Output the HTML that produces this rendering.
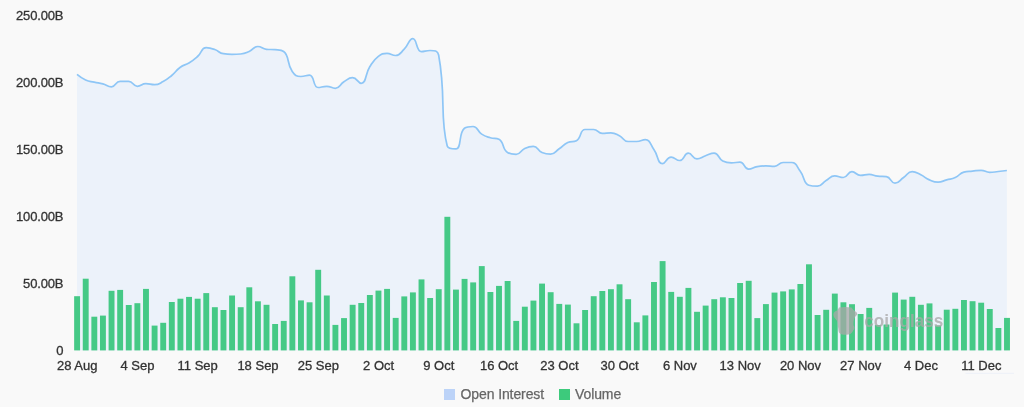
<!DOCTYPE html>
<html><head><meta charset="utf-8"><style>
html,body{margin:0;padding:0;background:#f9f9f9;}
body{width:1024px;height:407px;overflow:hidden;}
svg{display:block;font-family:"Liberation Sans", sans-serif;will-change:transform;}
</style></head><body>
<svg width="1024" height="407" viewBox="0 0 1024 407">
<rect width="1024" height="407" fill="#f9f9f9"/>
<path d="M77.00,74.40C77.00,74.40 81.01,77.82 85.61,79.90C89.62,81.72 89.88,81.19 94.22,82.20C98.49,83.19 98.60,82.77 102.83,83.90C107.21,85.07 107.39,86.80 111.44,86.80C116.00,86.80 115.38,81.30 120.05,81.30C123.99,81.30 124.67,81.30 128.66,81.30C133.28,81.30 132.75,86.30 137.27,86.30C141.36,86.30 141.50,83.70 145.88,83.70C150.11,83.70 150.30,84.70 154.49,84.70C158.91,84.70 159.10,83.74 163.10,81.60C167.71,79.14 167.68,78.87 171.71,75.50C176.29,71.67 175.54,70.67 180.32,67.20C184.15,64.42 184.88,65.52 188.93,63.00C193.49,60.17 193.52,60.07 197.54,56.50C202.13,52.42 201.13,47.70 206.15,47.70C209.74,47.70 210.64,48.06 214.76,49.50C219.25,51.06 218.84,53.03 223.37,53.70C227.45,54.30 227.67,54.30 231.98,54.30C236.28,54.30 236.37,54.30 240.59,54.00C244.98,53.69 245.12,53.28 249.20,51.50C253.73,49.53 253.30,46.50 257.81,46.50C261.91,46.50 262.01,48.88 266.42,49.30C270.62,49.70 270.77,49.30 275.03,49.70C279.38,50.11 281.17,49.70 283.64,51.50C289.78,55.96 286.35,62.92 292.25,71.50C294.96,75.42 296.27,76.50 300.86,76.50C304.88,76.50 306.31,75.20 309.48,75.20C314.92,75.20 312.63,87.50 318.09,87.50C321.24,87.50 322.43,86.30 326.70,86.30C331.04,86.30 331.43,88.30 335.31,88.30C340.04,88.30 339.35,84.61 343.92,81.80C347.96,79.31 348.38,77.70 352.53,77.70C356.99,77.70 358.08,83.30 361.14,83.30C366.69,83.30 364.73,74.53 369.75,66.70C373.34,61.08 373.23,60.36 378.36,56.40C381.84,53.71 382.60,53.40 386.97,53.40C391.21,53.40 391.67,55.50 395.58,55.50C400.28,55.50 400.40,52.90 404.19,49.20C409.01,44.50 408.78,38.70 412.80,38.70C417.39,38.70 415.89,51.60 421.41,51.60C424.50,51.60 425.95,50.50 430.02,50.50C434.56,50.50 437.80,50.50 438.63,55.00C446.41,97.34 439.41,116.82 447.24,146.00C448.02,148.90 453.36,148.90 455.85,148.90C461.97,148.90 458.28,132.87 464.46,128.30C466.89,126.50 469.33,126.50 473.07,126.50C477.94,126.50 476.93,131.01 481.68,134.10C485.54,136.61 485.85,136.36 490.29,137.70C494.46,138.96 495.82,137.70 498.90,139.30C504.43,142.18 501.98,149.28 507.51,152.50C510.59,154.30 512.18,154.30 516.12,154.30C520.79,154.30 520.07,150.56 524.73,148.40C528.68,146.56 529.42,146.30 533.34,146.30C538.03,146.30 537.23,150.56 541.95,152.50C545.84,154.10 546.56,154.10 550.56,154.10C555.17,154.10 554.97,151.61 559.17,148.80C563.58,145.86 563.07,144.77 567.78,142.60C571.68,140.80 573.10,142.60 576.39,140.80C581.71,137.89 579.64,129.50 585.00,129.50C588.25,129.50 589.51,129.50 593.61,129.50C598.12,129.50 597.72,133.40 602.22,133.40C606.33,133.40 606.64,132.80 610.83,132.80C615.25,132.80 615.42,133.67 619.44,135.70C624.03,138.02 623.35,141.50 628.05,141.50C631.96,141.50 632.40,141.50 636.66,141.50C641.01,141.50 641.80,139.70 645.27,139.70C650.41,139.70 650.08,144.23 653.88,149.50C658.69,156.18 657.28,163.60 662.49,163.60C665.89,163.60 666.47,157.10 671.10,157.10C675.08,157.10 675.83,160.50 679.71,160.50C684.44,160.50 683.81,153.20 688.32,153.20C692.43,153.20 692.37,158.80 696.93,158.80C700.98,158.80 701.22,157.23 705.54,155.80C709.83,154.38 710.40,153.10 714.15,153.10C719.01,153.10 717.86,158.48 722.76,161.00C726.47,162.90 727.02,162.90 731.37,162.90C735.64,162.90 736.20,162.20 739.98,162.20C744.81,162.20 743.84,169.10 748.59,169.10C752.45,169.10 752.82,167.33 757.20,166.60C761.43,165.90 761.50,165.90 765.81,165.90C770.12,165.90 770.31,166.30 774.43,166.30C778.92,166.30 778.54,162.50 783.04,162.50C787.15,162.50 788.10,162.50 791.65,162.50C796.71,162.50 796.56,166.42 800.26,171.30C805.17,177.77 803.24,183.50 808.87,185.20C811.85,186.10 813.54,186.10 817.48,186.10C822.15,186.10 821.67,183.11 826.09,180.50C830.28,178.01 830.16,175.90 834.70,175.90C838.77,175.90 839.37,177.50 843.31,177.50C847.98,177.50 847.39,171.70 851.92,171.70C856.00,171.70 856.05,175.40 860.53,175.40C864.66,175.40 864.86,174.40 869.14,174.40C873.47,174.40 873.40,175.79 877.75,176.20C882.01,176.60 882.55,176.20 886.36,176.60C891.16,177.10 890.56,183.20 894.97,183.20C899.17,183.20 899.30,180.38 903.58,177.50C907.91,174.58 907.61,171.60 912.19,171.60C916.22,171.60 916.68,172.81 920.80,174.80C925.29,176.96 924.85,177.94 929.41,179.90C933.46,181.64 933.71,182.20 938.02,182.20C942.32,182.20 942.32,181.05 946.63,179.90C950.93,178.75 951.23,179.42 955.24,177.60C959.84,175.52 959.19,173.28 963.85,172.10C967.80,171.10 968.15,171.55 972.46,171.10C976.76,170.65 976.82,170.30 981.07,170.30C985.43,170.30 985.32,172.40 989.68,172.40C993.93,172.40 993.99,171.97 998.29,171.50C1002.60,171.02 1006.90,170.50 1006.90,170.50L1006.90,350.4L77.0,350.4Z" fill="#ecf2fa"/>
<g fill="#45c986">
<rect x="74.15" y="296.20" width="5.9" height="54.20"/>
<rect x="82.76" y="278.70" width="5.9" height="71.70"/>
<rect x="91.37" y="316.70" width="5.9" height="33.70"/>
<rect x="99.98" y="315.60" width="5.9" height="34.80"/>
<rect x="108.59" y="290.80" width="5.9" height="59.60"/>
<rect x="117.20" y="289.90" width="5.9" height="60.50"/>
<rect x="125.81" y="305.00" width="5.9" height="45.40"/>
<rect x="134.42" y="303.20" width="5.9" height="47.20"/>
<rect x="143.03" y="288.90" width="5.9" height="61.50"/>
<rect x="151.64" y="325.60" width="5.9" height="24.80"/>
<rect x="160.25" y="322.80" width="5.9" height="27.60"/>
<rect x="168.86" y="302.00" width="5.9" height="48.40"/>
<rect x="177.47" y="298.70" width="5.9" height="51.70"/>
<rect x="186.08" y="296.90" width="5.9" height="53.50"/>
<rect x="194.69" y="298.70" width="5.9" height="51.70"/>
<rect x="203.30" y="293.10" width="5.9" height="57.30"/>
<rect x="211.91" y="307.20" width="5.9" height="43.20"/>
<rect x="220.52" y="310.00" width="5.9" height="40.40"/>
<rect x="229.13" y="295.50" width="5.9" height="54.90"/>
<rect x="237.74" y="307.20" width="5.9" height="43.20"/>
<rect x="246.35" y="287.30" width="5.9" height="63.10"/>
<rect x="254.96" y="301.30" width="5.9" height="49.10"/>
<rect x="263.57" y="304.80" width="5.9" height="45.60"/>
<rect x="272.18" y="324.00" width="5.9" height="26.40"/>
<rect x="280.79" y="320.90" width="5.9" height="29.50"/>
<rect x="289.40" y="276.30" width="5.9" height="74.10"/>
<rect x="298.01" y="300.40" width="5.9" height="50.00"/>
<rect x="306.63" y="302.30" width="5.9" height="48.10"/>
<rect x="315.24" y="269.80" width="5.9" height="80.60"/>
<rect x="323.85" y="295.50" width="5.9" height="54.90"/>
<rect x="332.46" y="324.90" width="5.9" height="25.50"/>
<rect x="341.07" y="318.10" width="5.9" height="32.30"/>
<rect x="349.68" y="304.80" width="5.9" height="45.60"/>
<rect x="358.29" y="303.00" width="5.9" height="47.40"/>
<rect x="366.90" y="295.00" width="5.9" height="55.40"/>
<rect x="375.51" y="290.60" width="5.9" height="59.80"/>
<rect x="384.12" y="288.90" width="5.9" height="61.50"/>
<rect x="392.73" y="317.90" width="5.9" height="32.50"/>
<rect x="401.34" y="296.40" width="5.9" height="54.00"/>
<rect x="409.95" y="292.40" width="5.9" height="58.00"/>
<rect x="418.56" y="279.40" width="5.9" height="71.00"/>
<rect x="427.17" y="298.00" width="5.9" height="52.40"/>
<rect x="435.78" y="289.20" width="5.9" height="61.20"/>
<rect x="444.39" y="216.80" width="5.9" height="133.60"/>
<rect x="453.00" y="289.60" width="5.9" height="60.80"/>
<rect x="461.61" y="278.90" width="5.9" height="71.50"/>
<rect x="470.22" y="282.40" width="5.9" height="68.00"/>
<rect x="478.83" y="266.10" width="5.9" height="84.30"/>
<rect x="487.44" y="292.00" width="5.9" height="58.40"/>
<rect x="496.05" y="285.90" width="5.9" height="64.50"/>
<rect x="504.66" y="281.00" width="5.9" height="69.40"/>
<rect x="513.27" y="320.90" width="5.9" height="29.50"/>
<rect x="521.88" y="306.70" width="5.9" height="43.70"/>
<rect x="530.49" y="300.60" width="5.9" height="49.80"/>
<rect x="539.10" y="283.60" width="5.9" height="66.80"/>
<rect x="547.71" y="292.20" width="5.9" height="58.20"/>
<rect x="556.32" y="303.90" width="5.9" height="46.50"/>
<rect x="564.93" y="304.60" width="5.9" height="45.80"/>
<rect x="573.54" y="323.30" width="5.9" height="27.10"/>
<rect x="582.15" y="310.00" width="5.9" height="40.40"/>
<rect x="590.76" y="296.20" width="5.9" height="54.20"/>
<rect x="599.37" y="291.00" width="5.9" height="59.40"/>
<rect x="607.98" y="289.20" width="5.9" height="61.20"/>
<rect x="616.59" y="284.30" width="5.9" height="66.10"/>
<rect x="625.20" y="299.20" width="5.9" height="51.20"/>
<rect x="633.81" y="322.30" width="5.9" height="28.10"/>
<rect x="642.42" y="315.40" width="5.9" height="35.00"/>
<rect x="651.03" y="282.00" width="5.9" height="68.40"/>
<rect x="659.64" y="261.10" width="5.9" height="89.30"/>
<rect x="668.25" y="291.90" width="5.9" height="58.50"/>
<rect x="676.86" y="296.80" width="5.9" height="53.60"/>
<rect x="685.47" y="287.90" width="5.9" height="62.50"/>
<rect x="694.08" y="311.80" width="5.9" height="38.60"/>
<rect x="702.69" y="305.60" width="5.9" height="44.80"/>
<rect x="711.30" y="299.20" width="5.9" height="51.20"/>
<rect x="719.91" y="297.30" width="5.9" height="53.10"/>
<rect x="728.52" y="298.00" width="5.9" height="52.40"/>
<rect x="737.13" y="283.00" width="5.9" height="67.40"/>
<rect x="745.74" y="280.80" width="5.9" height="69.60"/>
<rect x="754.35" y="318.10" width="5.9" height="32.30"/>
<rect x="762.96" y="304.10" width="5.9" height="46.30"/>
<rect x="771.58" y="292.60" width="5.9" height="57.80"/>
<rect x="780.19" y="291.40" width="5.9" height="59.00"/>
<rect x="788.80" y="289.40" width="5.9" height="61.00"/>
<rect x="797.41" y="284.00" width="5.9" height="66.40"/>
<rect x="806.02" y="264.30" width="5.9" height="86.10"/>
<rect x="814.63" y="315.00" width="5.9" height="35.40"/>
<rect x="823.24" y="309.80" width="5.9" height="40.60"/>
<rect x="831.85" y="293.60" width="5.9" height="56.80"/>
<rect x="840.46" y="302.30" width="5.9" height="48.10"/>
<rect x="849.07" y="304.20" width="5.9" height="46.20"/>
<rect x="857.68" y="314.00" width="5.9" height="36.40"/>
<rect x="866.29" y="307.90" width="5.9" height="42.50"/>
<rect x="874.90" y="325.00" width="5.9" height="25.40"/>
<rect x="883.51" y="324.50" width="5.9" height="25.90"/>
<rect x="892.12" y="292.60" width="5.9" height="57.80"/>
<rect x="900.73" y="299.60" width="5.9" height="50.80"/>
<rect x="909.34" y="296.80" width="5.9" height="53.60"/>
<rect x="917.95" y="304.80" width="5.9" height="45.60"/>
<rect x="926.56" y="303.40" width="5.9" height="47.00"/>
<rect x="935.17" y="325.50" width="5.9" height="24.90"/>
<rect x="943.78" y="309.70" width="5.9" height="40.70"/>
<rect x="952.39" y="308.80" width="5.9" height="41.60"/>
<rect x="961.00" y="300.00" width="5.9" height="50.40"/>
<rect x="969.61" y="301.20" width="5.9" height="49.20"/>
<rect x="978.22" y="302.70" width="5.9" height="47.70"/>
<rect x="986.83" y="309.00" width="5.9" height="41.40"/>
<rect x="995.44" y="328.00" width="5.9" height="22.40"/>
<rect x="1004.05" y="317.90" width="5.9" height="32.50"/>
</g>
<path d="M77.00,74.40C77.00,74.40 81.01,77.82 85.61,79.90C89.62,81.72 89.88,81.19 94.22,82.20C98.49,83.19 98.60,82.77 102.83,83.90C107.21,85.07 107.39,86.80 111.44,86.80C116.00,86.80 115.38,81.30 120.05,81.30C123.99,81.30 124.67,81.30 128.66,81.30C133.28,81.30 132.75,86.30 137.27,86.30C141.36,86.30 141.50,83.70 145.88,83.70C150.11,83.70 150.30,84.70 154.49,84.70C158.91,84.70 159.10,83.74 163.10,81.60C167.71,79.14 167.68,78.87 171.71,75.50C176.29,71.67 175.54,70.67 180.32,67.20C184.15,64.42 184.88,65.52 188.93,63.00C193.49,60.17 193.52,60.07 197.54,56.50C202.13,52.42 201.13,47.70 206.15,47.70C209.74,47.70 210.64,48.06 214.76,49.50C219.25,51.06 218.84,53.03 223.37,53.70C227.45,54.30 227.67,54.30 231.98,54.30C236.28,54.30 236.37,54.30 240.59,54.00C244.98,53.69 245.12,53.28 249.20,51.50C253.73,49.53 253.30,46.50 257.81,46.50C261.91,46.50 262.01,48.88 266.42,49.30C270.62,49.70 270.77,49.30 275.03,49.70C279.38,50.11 281.17,49.70 283.64,51.50C289.78,55.96 286.35,62.92 292.25,71.50C294.96,75.42 296.27,76.50 300.86,76.50C304.88,76.50 306.31,75.20 309.48,75.20C314.92,75.20 312.63,87.50 318.09,87.50C321.24,87.50 322.43,86.30 326.70,86.30C331.04,86.30 331.43,88.30 335.31,88.30C340.04,88.30 339.35,84.61 343.92,81.80C347.96,79.31 348.38,77.70 352.53,77.70C356.99,77.70 358.08,83.30 361.14,83.30C366.69,83.30 364.73,74.53 369.75,66.70C373.34,61.08 373.23,60.36 378.36,56.40C381.84,53.71 382.60,53.40 386.97,53.40C391.21,53.40 391.67,55.50 395.58,55.50C400.28,55.50 400.40,52.90 404.19,49.20C409.01,44.50 408.78,38.70 412.80,38.70C417.39,38.70 415.89,51.60 421.41,51.60C424.50,51.60 425.95,50.50 430.02,50.50C434.56,50.50 437.80,50.50 438.63,55.00C446.41,97.34 439.41,116.82 447.24,146.00C448.02,148.90 453.36,148.90 455.85,148.90C461.97,148.90 458.28,132.87 464.46,128.30C466.89,126.50 469.33,126.50 473.07,126.50C477.94,126.50 476.93,131.01 481.68,134.10C485.54,136.61 485.85,136.36 490.29,137.70C494.46,138.96 495.82,137.70 498.90,139.30C504.43,142.18 501.98,149.28 507.51,152.50C510.59,154.30 512.18,154.30 516.12,154.30C520.79,154.30 520.07,150.56 524.73,148.40C528.68,146.56 529.42,146.30 533.34,146.30C538.03,146.30 537.23,150.56 541.95,152.50C545.84,154.10 546.56,154.10 550.56,154.10C555.17,154.10 554.97,151.61 559.17,148.80C563.58,145.86 563.07,144.77 567.78,142.60C571.68,140.80 573.10,142.60 576.39,140.80C581.71,137.89 579.64,129.50 585.00,129.50C588.25,129.50 589.51,129.50 593.61,129.50C598.12,129.50 597.72,133.40 602.22,133.40C606.33,133.40 606.64,132.80 610.83,132.80C615.25,132.80 615.42,133.67 619.44,135.70C624.03,138.02 623.35,141.50 628.05,141.50C631.96,141.50 632.40,141.50 636.66,141.50C641.01,141.50 641.80,139.70 645.27,139.70C650.41,139.70 650.08,144.23 653.88,149.50C658.69,156.18 657.28,163.60 662.49,163.60C665.89,163.60 666.47,157.10 671.10,157.10C675.08,157.10 675.83,160.50 679.71,160.50C684.44,160.50 683.81,153.20 688.32,153.20C692.43,153.20 692.37,158.80 696.93,158.80C700.98,158.80 701.22,157.23 705.54,155.80C709.83,154.38 710.40,153.10 714.15,153.10C719.01,153.10 717.86,158.48 722.76,161.00C726.47,162.90 727.02,162.90 731.37,162.90C735.64,162.90 736.20,162.20 739.98,162.20C744.81,162.20 743.84,169.10 748.59,169.10C752.45,169.10 752.82,167.33 757.20,166.60C761.43,165.90 761.50,165.90 765.81,165.90C770.12,165.90 770.31,166.30 774.43,166.30C778.92,166.30 778.54,162.50 783.04,162.50C787.15,162.50 788.10,162.50 791.65,162.50C796.71,162.50 796.56,166.42 800.26,171.30C805.17,177.77 803.24,183.50 808.87,185.20C811.85,186.10 813.54,186.10 817.48,186.10C822.15,186.10 821.67,183.11 826.09,180.50C830.28,178.01 830.16,175.90 834.70,175.90C838.77,175.90 839.37,177.50 843.31,177.50C847.98,177.50 847.39,171.70 851.92,171.70C856.00,171.70 856.05,175.40 860.53,175.40C864.66,175.40 864.86,174.40 869.14,174.40C873.47,174.40 873.40,175.79 877.75,176.20C882.01,176.60 882.55,176.20 886.36,176.60C891.16,177.10 890.56,183.20 894.97,183.20C899.17,183.20 899.30,180.38 903.58,177.50C907.91,174.58 907.61,171.60 912.19,171.60C916.22,171.60 916.68,172.81 920.80,174.80C925.29,176.96 924.85,177.94 929.41,179.90C933.46,181.64 933.71,182.20 938.02,182.20C942.32,182.20 942.32,181.05 946.63,179.90C950.93,178.75 951.23,179.42 955.24,177.60C959.84,175.52 959.19,173.28 963.85,172.10C967.80,171.10 968.15,171.55 972.46,171.10C976.76,170.65 976.82,170.30 981.07,170.30C985.43,170.30 985.32,172.40 989.68,172.40C993.93,172.40 993.99,171.97 998.29,171.50C1002.60,171.02 1006.90,170.50 1006.90,170.50" fill="none" stroke="#8ec6f6" stroke-width="1.7" stroke-linejoin="round"/>
<g font-size="13" fill="#333" stroke="#333" stroke-width="0.3">
<text x="63.4" y="20.2" text-anchor="end" letter-spacing="-0.15">250.00B</text>
<text x="63.4" y="87.1" text-anchor="end" letter-spacing="-0.15">200.00B</text>
<text x="63.4" y="154.0" text-anchor="end" letter-spacing="-0.15">150.00B</text>
<text x="63.4" y="220.8" text-anchor="end" letter-spacing="-0.15">100.00B</text>
<text x="63.4" y="287.7" text-anchor="end" letter-spacing="-0.15">50.00B</text>
<text x="63.4" y="354.6" text-anchor="end" letter-spacing="-0.15">0</text>
<text x="77.2" y="369.9" text-anchor="middle">28 Aug</text>
<text x="137.5" y="369.9" text-anchor="middle">4 Sep</text>
<text x="197.7" y="369.9" text-anchor="middle">11 Sep</text>
<text x="258.0" y="369.9" text-anchor="middle">18 Sep</text>
<text x="318.3" y="369.9" text-anchor="middle">25 Sep</text>
<text x="378.6" y="369.9" text-anchor="middle">2 Oct</text>
<text x="438.8" y="369.9" text-anchor="middle">9 Oct</text>
<text x="499.1" y="369.9" text-anchor="middle">16 Oct</text>
<text x="559.4" y="369.9" text-anchor="middle">23 Oct</text>
<text x="619.6" y="369.9" text-anchor="middle">30 Oct</text>
<text x="679.9" y="369.9" text-anchor="middle">6 Nov</text>
<text x="740.2" y="369.9" text-anchor="middle">13 Nov</text>
<text x="800.5" y="369.9" text-anchor="middle">20 Nov</text>
<text x="860.7" y="369.9" text-anchor="middle">27 Nov</text>
<text x="921.0" y="369.9" text-anchor="middle">4 Dec</text>
<text x="981.3" y="369.9" text-anchor="middle">11 Dec</text>
</g>
<g fill="#a8a8a8" opacity="0.75">
<path d="M839,307.6 C843,306.8 848,306.8 851.5,307.6 C852.5,309 853.5,310.6 855.5,311.4 C857.6,312.4 857.8,314.8 855.6,316.2 C853.6,318.5 853.2,322.5 853.6,325.5 C855,327 854.6,329 853.2,330.5 C852.2,333.2 850,334.8 846,334.8 C842,334.8 840,334 839,332.5 C838.2,330.5 838.6,328.2 837.8,326.5 C837.6,324.5 838.2,322.5 836.8,320.5 C835,318.8 833.4,317 833.4,314.6 C833.4,312.2 835.2,311 837.2,310.4 C838.2,309.6 838.4,308.4 839,307.6Z"/>
<text x="864.3" y="327.2" font-size="19" font-weight="bold" textLength="79" lengthAdjust="spacingAndGlyphs">coinglass</text>
</g>
<rect x="965.5" y="372.8" width="48.5" height="1" fill="#edf0f8"/>
<rect x="444" y="389" width="11" height="11" fill="#bcd3f8"/>
<rect x="559" y="389" width="11" height="11" fill="#3dca7c"/>
<g font-size="14" fill="#666" stroke="#666" stroke-width="0.25" letter-spacing="-0.1">
<text x="460.5" y="399.2">Open Interest</text>
<text x="575" y="399.2">Volume</text>
</g>
</svg>
</body></html>
